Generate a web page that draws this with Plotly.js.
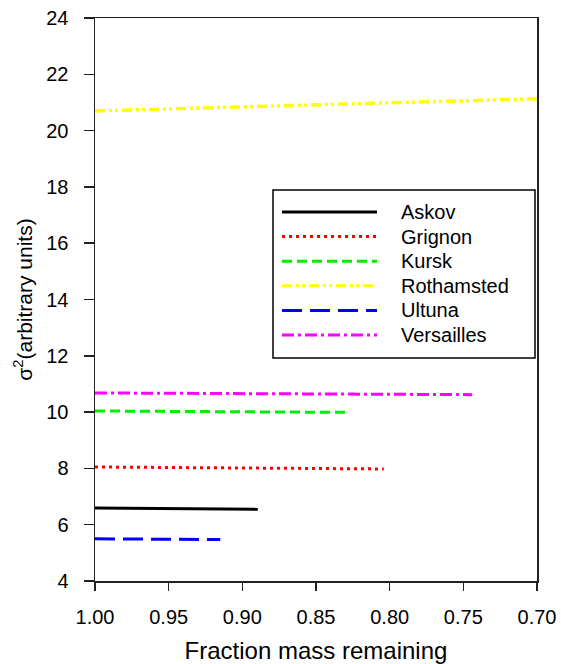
<!DOCTYPE html>
<html>
<head>
<meta charset="utf-8">
<script src="https://cdn.plot.ly/plotly-3.0.1.min.js"></script>
<style>html,body{margin:0;padding:0;background:#fff;}#chart{width:561px;height:664px;}</style>
</head>
<body>
<div id="chart"></div>
<script>
// Series names
const names = ["Askov", "Grignon", "Kursk", "Rothamsted", "Ultuna", "Versailles"];
// Fraction mass remaining (start, end) for each series
const xAskov = [1.00, 0.8895];
const xGrignon = [1.00, 0.804];
const xKursk = [1.00, 0.828];
const xRothamsted = [1.00, 0.70];
const xUltuna = [1.00, 0.915];
const xVersailles = [1.00, 0.744];
// sigma^2 values (start, end)
const yAskov = [6.59, 6.55];
const yGrignon = [8.05, 7.98];
const yKursk = [10.04, 9.99];
const yRothamsted = [20.70, 21.13];
const yUltuna = [5.50, 5.47];
const yVersailles = [10.68, 10.62];
// Tick labels
const xTicks = [1.00, 0.95, 0.90, 0.85, 0.80, 0.75, 0.70];
const xTickText = ["1.00", "0.95", "0.90", "0.85", "0.80", "0.75", "0.70"];
const yTicks = [4, 6, 8, 10, 12, 14, 16, 18, 20, 22, 24];

const xs = [xAskov, xGrignon, xKursk, xRothamsted, xUltuna, xVersailles];
const ys = [yAskov, yGrignon, yKursk, yRothamsted, yUltuna, yVersailles];
const colors = ["#000000", "#ff0000", "#00f000", "#ffff00", "#0000ff", "#ff00ff"];
const dashes = ["solid", "3px,4px", "10px,5px", "10px,4px,3px,3px,3px,4px", "20px,8px", "12px,4px,3px,4px"];
const widths = [3, 3, 3, 3.5, 3, 3];

const FONT = "Liberation Sans, Arial, sans-serif";

const traces = names.map((n, i) => ({
  type: "scatter", mode: "lines", name: n,
  x: xs[i], y: ys[i],
  line: {color: colors[i], dash: dashes[i], width: widths[i]},
  showlegend: false, hoverinfo: "skip"
}));

// Manual legend (layout decoration) in pixel terms converted to paper coords
const W = 561, H = 664;
const mL = 95, mR = 24, mT = 18, mB = 83;
const pw = W - mL - mR, ph = H - mT - mB;
const px = v => (v - mL) / pw;
const py = v => (H - mB - v) / ph;

const shapes = [{
  type: "rect", xref: "paper", yref: "paper",
  x0: px(273), x1: px(535), y0: py(358), y1: py(190),
  line: {color: "#000", width: 1.5}, fillcolor: "rgba(255,255,255,1)", layer: "above"
}];
const annotations = [];
names.forEach((n, i) => {
  const cy = 212 + i * 24.6;
  shapes.push({
    type: "line", xref: "paper", yref: "paper",
    x0: px(282), x1: px(377), y0: py(cy), y1: py(cy),
    line: {color: colors[i], dash: dashes[i], width: 3}, layer: "above"
  });
  annotations.push({
    xref: "paper", yref: "paper", x: px(399), y: py(cy),
    xanchor: "left", yanchor: "middle", showarrow: false, text: n,
    font: {family: FONT, size: 20, color: "#000"}
  });
});

const layout = {
  width: W, height: H,
  margin: {l: mL, r: mR, t: mT, b: mB, pad: 0},
  paper_bgcolor: "#fff", plot_bgcolor: "#fff",
  font: {family: FONT, size: 20, color: "#000"},
  showlegend: false,
  xaxis: {
    range: [1.00, 0.70], autorange: false,
    tickvals: xTicks, ticktext: xTickText,
    ticks: "outside", ticklen: 8, tickwidth: 1.5, tickcolor: "#222",
    showline: true, linecolor: "#222", linewidth: 1.5, mirror: true,
    showgrid: false, zeroline: false,
    tickfont: {family: FONT, size: 20}, ticklabelstandoff: 9,
    title: {text: "Fraction mass remaining", font: {family: FONT, size: 24}, standoff: 20}
  },
  yaxis: {
    range: [4, 24], autorange: false,
    tickvals: yTicks,
    ticks: "outside", ticklen: 10, tickwidth: 1.5, tickcolor: "#222",
    showline: true, linecolor: "#222", linewidth: 1.5, mirror: true,
    showgrid: false, zeroline: false,
    tickfont: {family: FONT, size: 20}, ticklabelstandoff: 11,
    title: {text: "σ<sup>2</sup>(arbitrary units)", font: {family: FONT, size: 21}, standoff: 8}
  },
  shapes: shapes,
  annotations: annotations
};

Plotly.newPlot("chart", traces, layout, {staticPlot: true, displayModeBar: false});
</script>
</body>
</html>
